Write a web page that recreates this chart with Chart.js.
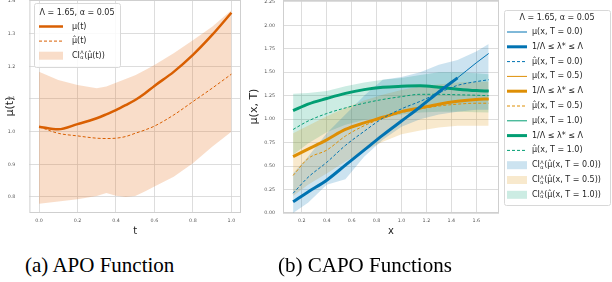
<!DOCTYPE html>
<html>
<head>
<meta charset="utf-8">
<script src="https://cdn.jsdelivr.net/npm/chart.js@4.4.0/dist/chart.umd.min.js"></script>
<style>
body{margin:0;background:#fff;width:612px;height:282px;overflow:hidden;position:relative;}
#left{position:absolute;left:0;top:0;width:243px;height:240px;}
#right{position:absolute;left:242px;top:0;width:370px;height:240px;}
.cap{position:absolute;top:253px;font-family:"Liberation Serif";font-size:21px;line-height:24px;color:#000;white-space:nowrap;}
</style>
</head>
<body>
<div id="left"><canvas id="apoChart"></canvas></div>
<div id="right"><canvas id="capoChart"></canvas></div>
<div class="cap" style="left:25px">(a) APO Function</div>
<div class="cap" style="left:278px">(b) CAPO Functions</div>
<script>
// (a) APO function
var tVals = [0, 0.1, 0.2, 0.3, 0.35, 0.4, 0.45, 0.5, 0.55, 0.6, 0.7, 0.8, 0.9, 1.0];
var muTrue = [1.015, 1.007, 1.023, 1.041, 1.053, 1.066, 1.081, 1.097, 1.117, 1.14, 1.183, 1.235, 1.296, 1.364];
var muHat = [1.015, 0.995, 0.987, 0.98, 0.979, 0.98, 0.985, 0.995, 1.005, 1.017, 1.051, 1.092, 1.133, 1.176];
var ciUpper = [1.183, 1.158, 1.143, 1.133, 1.138, 1.15, 1.161, 1.173, 1.188, 1.204, 1.24, 1.28, 1.321, 1.372];
var ciLower = [0.779, 0.786, 0.793, 0.803, 0.812, 0.804, 0.80, 0.803, 0.817, 0.832, 0.862, 0.903, 0.954, 1.0];
var tTicks = [0, 0.2, 0.4, 0.6, 0.8, 1.0];
var muTicks = [0.8, 0.9, 1.0, 1.1, 1.2, 1.3, 1.4];

// (b) CAPO functions
var xVals = [0.13, 0.25, 0.4, 0.55, 0.7, 0.85, 1.0, 1.15, 1.3, 1.45, 1.6, 1.7];
var mu0 = [0.12, 0.225, 0.35, 0.51, 0.67, 0.83, 0.98, 1.13, 1.29, 1.44, 1.60, 1.70];
var bound0 = [0.12, 0.225, 0.35, 0.51, 0.67, 0.83, 0.98, 1.13, 1.29, 1.44, null, null];
var muHat0 = [0.21, 0.38, 0.54, 0.72, 0.87, 1.01, 1.11, 1.19, 1.28, 1.36, 1.40, 1.42];
var ciUp0 = [0.42, 0.60, 0.85, 1.05, 1.25, 1.42, 1.45, 1.50, 1.58, 1.63, 1.72, 1.80];
var ciLo0 = [0.0, 0.11, 0.30, 0.36, 0.60, 0.78, 0.92, 1.00, 1.05, 1.08, 1.10, 1.10];
var mu05 = [0.60, 0.68, 0.78, 0.89, 0.96, 1.02, 1.08, 1.12, 1.16, 1.19, 1.21, 1.215];
var muHat05 = [0.40, 0.58, 0.67, 0.82, 0.93, 1.01, 1.07, 1.11, 1.14, 1.16, 1.17, 1.17];
var ciUp05 = [0.85, 0.93, 1.03, 1.12, 1.20, 1.26, 1.31, 1.35, 1.37, 1.39, 1.40, 1.40];
var ciLo05 = [0.18, 0.30, 0.42, 0.55, 0.66, 0.76, 0.84, 0.88, 0.91, 0.93, 0.93, 0.93];
var mu1 = [1.09, 1.16, 1.22, 1.275, 1.315, 1.34, 1.35, 1.355, 1.34, 1.32, 1.305, 1.30];
var muHat1 = [0.89, 0.98, 1.06, 1.12, 1.17, 1.21, 1.24, 1.265, 1.265, 1.26, 1.255, 1.25];
var ciUp1 = [1.27, 1.28, 1.30, 1.35, 1.39, 1.42, 1.44, 1.47, 1.50, 1.50, 1.49, 1.48];
var ciLo1 = [0.62, 0.74, 0.86, 0.94, 0.99, 1.02, 1.05, 1.07, 1.08, 1.08, 1.075, 1.07];
var xTicks = [0.2, 0.4, 0.6, 0.8, 1.0, 1.2, 1.4, 1.6];
var yTicks = [0, 0.25, 0.5, 0.75, 1.0, 1.25, 1.5, 1.75, 2.0, 2.25];

var FONT = '"DejaVu Sans"';
var BLUE = '#0173b2', ORANGE = '#de8f05', GREEN = '#029e73', APO = '#d95f02';

function pts(xs, ys) {
    var out = [];
    for (var i = 0; i < xs.length; i++) {
        if (ys[i] !== null) out.push({x: xs[i], y: ys[i]});
    }
    return out;
}

function line(xs, ys, color, width, dash) {
    return {data: pts(xs, ys), borderColor: color, borderWidth: width, borderDash: dash || [],
            pointRadius: 0, fill: false, cubicInterpolationMode: 'monotone'};
}

function band(xs, lo, up, color) {
    return [
        {data: pts(xs, lo), borderWidth: 0, pointRadius: 0, fill: false},
        {data: pts(xs, up), borderWidth: 0, pointRadius: 0, fill: '-1', backgroundColor: color}
    ];
}

function drawRich(ctx, text, x, y, size) {
    var parts = text.split('^Λ_α');
    ctx.font = size + 'px ' + FONT;
    ctx.fillText(parts[0], x, y);
    if (parts.length < 2) return;
    x += ctx.measureText(parts[0]).width;
    ctx.font = (size * 0.62) + 'px ' + FONT;
    ctx.fillText('Λ', x + 0.3, y - size * 0.32);
    ctx.fillText('α', x + 0.3, y + size * 0.3);
    x += ctx.measureText('Λ').width + 0.8;
    ctx.font = size + 'px ' + FONT;
    ctx.fillText(parts[1], x, y);
}

var frame = {
    id: 'frame',
    beforeDatasetsDraw: function(chart) {
        var a = chart.chartArea, ctx = chart.ctx;
        ctx.save();
        ctx.strokeStyle = '#cfcfcf';
        ctx.lineWidth = 1;
        ctx.strokeRect(a.left + 0.5, a.top + 0.5, a.right - a.left - 1, a.bottom - a.top - 1);
        ctx.restore();
    }
};

var boxLegend = {
    id: 'boxLegend',
    afterDraw: function(chart, args, o) {
        var ctx = chart.ctx;
        ctx.save();
        ctx.fillStyle = 'rgba(255,255,255,0.85)';
        ctx.strokeStyle = '#d8d8d8';
        ctx.lineWidth = 1;
        ctx.beginPath();
        ctx.roundRect(o.x + 0.5, o.y + 0.5, o.w, o.h, 2);
        ctx.fill();
        ctx.stroke();
        ctx.fillStyle = '#262626';
        ctx.textBaseline = 'middle';
        ctx.textAlign = 'center';
        ctx.font = o.size + 'px ' + FONT;
        ctx.fillText(o.title, o.x + o.w / 2, o.titleY);
        ctx.textAlign = 'left';
        o.items.forEach(function(it, i) {
            var y = o.rowY + i * o.rowStep;
            var x0 = o.x + o.handleX;
            if (it.box) {
                ctx.fillStyle = it.color;
                ctx.fillRect(x0, y - 4, o.handleW, 8);
            } else {
                ctx.strokeStyle = it.color;
                ctx.lineWidth = it.width;
                ctx.setLineDash(it.dash || []);
                ctx.beginPath();
                ctx.moveTo(x0, y);
                ctx.lineTo(x0 + o.handleW, y);
                ctx.stroke();
                ctx.setLineDash([]);
            }
            ctx.fillStyle = '#262626';
            drawRich(ctx, it.text, o.x + o.textX, y, o.size);
        });
        ctx.restore();
    }
};

function scaleOpts(min, max, tickVals, digits, title, fixed, pad, titlePad, horizontal) {
    return {
        type: 'linear', min: min, max: max,
        afterBuildTicks: function(s) { s.ticks = tickVals.map(function(v) { return {value: v}; }); },
        afterFit: function(s) {
            if (horizontal) { s.height = fixed; s.paddingLeft = 0; s.paddingRight = 0; }
            else { s.width = fixed; s.paddingTop = 0; s.paddingBottom = 0; }
        },
        ticks: {font: {family: 'DejaVu Sans', size: 4.8}, color: '#555', padding: pad, maxRotation: 0,
                callback: function(v) { return Number(v).toFixed(digits); }},
        grid: {color: '#d4d4d4', lineWidth: 0.8, drawTicks: false},
        border: {display: false},
        title: {display: true, text: title, color: '#222',
                font: {family: 'DejaVu Sans', size: horizontal ? 10 : 11}, padding: titlePad}
    };
}

new Chart(document.getElementById('apoChart'), {
    type: 'line',
    data: {
        datasets: [
            line(tVals, muTrue, APO, 2.5),
            line(tVals, muHat, APO, 1, [3, 2])
        ].concat(band(tVals, ciLower, ciUpper, 'rgba(230,120,40,0.25)'))
    },
    options: {
        responsive: true, maintainAspectRatio: false, animation: false,
        layout: {padding: {left: 0, right: 2, top: 0, bottom: 0}},
        scales: {
            x: scaleOpts(-0.05, 1.05, tTicks, 1, 't', 27, 5, {top: 0, bottom: 3}, true),
            y: scaleOpts(0.751, 1.403, muTicks, 1, 'μ(t)', 29.4, 14, {top: 4, bottom: 0}, false)
        },
        plugins: {
            legend: {display: false}, tooltip: {enabled: false},
            boxLegend: {
                x: 34, y: 3, w: 86, h: 64, size: 8, title: 'Λ = 1.65, α = 0.05', titleY: 13,
                rowY: 26.5, rowStep: 14.6, handleX: 5, handleW: 24, textX: 38,
                items: [
                    {text: 'μ(t)', color: APO, width: 2.5},
                    {text: 'μ\u0302(t)', color: APO, width: 1, dash: [3, 2]},
                    {text: 'CI^Λ_α(μ\u0302(t))', box: true, color: 'rgba(230,120,40,0.25)'}
                ]
            }
        }
    },
    plugins: [frame, boxLegend]
});

var groups = [
    {t: '0.0', c: BLUE, fill: 'rgba(1,115,178,0.2)', mu: mu0, bound: bound0, hat: muHat0, lo: ciLo0, up: ciUp0},
    {t: '0.5', c: ORANGE, fill: 'rgba(222,143,5,0.2)', mu: mu05, bound: mu05, hat: muHat05, lo: ciLo05, up: ciUp05},
    {t: '1.0', c: GREEN, fill: 'rgba(2,158,115,0.2)', mu: mu1, bound: mu1, hat: muHat1, lo: ciLo1, up: ciUp1}
];

var capoSets = [], bandSets = [], lineItems = [], bandItems = [];
groups.forEach(function(g) {
    capoSets.push(line(xVals, g.mu, g.c, 1));
    capoSets.push(line(xVals, g.bound, g.c, 3));
    capoSets.push(line(xVals, g.hat, g.c, 1, [3, 2]));
    bandSets = bandSets.concat(band(xVals, g.lo, g.up, g.fill));
    lineItems.push({text: 'μ(x, T = ' + g.t + ')', color: g.c, width: 1});
    lineItems.push({text: '1/Λ ≤ λ* ≤ Λ', color: g.c, width: 3});
    lineItems.push({text: 'μ\u0302(x, T = ' + g.t + ')', color: g.c, width: 1, dash: [3, 2]});
    bandItems.push({text: 'CI^Λ_α(μ\u0302(x, T = ' + g.t + '))', box: true, color: g.fill});
});

new Chart(document.getElementById('capoChart'), {
    type: 'line',
    data: {datasets: capoSets.concat(bandSets)},
    options: {
        responsive: true, maintainAspectRatio: false, animation: false,
        layout: {padding: {left: 0, right: 113, top: 0, bottom: 0}},
        scales: {
            x: scaleOpts(0.049, 1.783, xTicks, 1, 'x', 27, 5, {top: 0, bottom: 3}, true),
            y: scaleOpts(0, 2.27, yTicks, 2, 'μ(x, T)', 41, 8, {top: 6, bottom: 0}, false)
        },
        plugins: {
            legend: {display: false}, tooltip: {enabled: false},
            boxLegend: {
                x: 262, y: 10, w: 106, h: 195, size: 8, title: 'Λ = 1.65, α = 0.05', titleY: 17.5,
                rowY: 32, rowStep: 14.8, handleX: 3, handleW: 20, textX: 28,
                items: lineItems.concat(bandItems)
            }
        }
    },
    plugins: [frame, boxLegend]
});
</script>
</body>
</html>
